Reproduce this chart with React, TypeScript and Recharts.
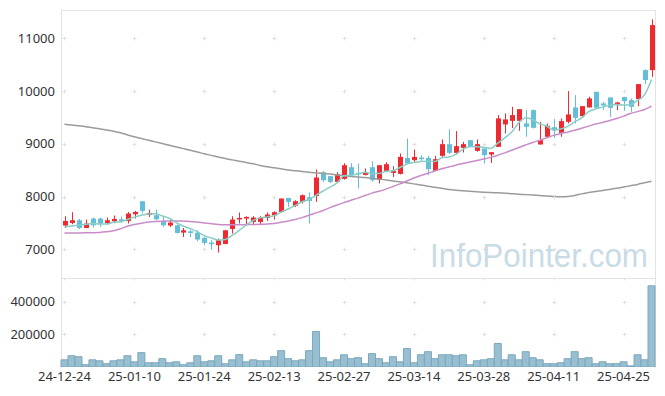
import React from 'react';
import { ComposedChart, Bar, Line, XAxis, YAxis, ReferenceDot } from 'recharts';

const dates = [
  '24-12-24', '24-12-26', '24-12-27', '24-12-30', '25-01-02', '25-01-03', '25-01-06', '25-01-07', '25-01-08', '25-01-09',
  '25-01-10', '25-01-13', '25-01-14', '25-01-15', '25-01-16', '25-01-17', '25-01-20', '25-01-21', '25-01-22', '25-01-23',
  '25-01-24', '25-01-31', '25-02-03', '25-02-04', '25-02-05', '25-02-06', '25-02-07', '25-02-10', '25-02-11', '25-02-12',
  '25-02-13', '25-02-14', '25-02-17', '25-02-18', '25-02-19', '25-02-20', '25-02-21', '25-02-24', '25-02-25', '25-02-26',
  '25-02-27', '25-02-28', '25-03-04', '25-03-05', '25-03-06', '25-03-07', '25-03-10', '25-03-11', '25-03-12', '25-03-13',
  '25-03-14', '25-03-17', '25-03-18', '25-03-19', '25-03-20', '25-03-21', '25-03-24', '25-03-25', '25-03-26', '25-03-27',
  '25-03-28', '25-03-31', '25-04-01', '25-04-02', '25-04-03', '25-04-04', '25-04-07', '25-04-08', '25-04-09', '25-04-10',
  '25-04-11', '25-04-14', '25-04-15', '25-04-16', '25-04-17', '25-04-18', '25-04-21', '25-04-22', '25-04-23', '25-04-24',
  '25-04-25', '25-04-28', '25-04-29', '25-04-30', '25-05-02',
];

const opens = [
  7450, 7499, 7550, 7404, 7582, 7582, 7499, 7531, 7569, 7537,
  7664, 7911, 7652, 7645, 7531, 7450, 7455, 7316, 7341, 7316,
  7215, 7127, 7076, 7101, 7385, 7564, 7582, 7518, 7518, 7594,
  7645, 7708, 7974, 7822, 7898, 7987, 8012, 8456, 8386, 8278,
  8335, 8556, 8448, 8410, 8556, 8316, 8486, 8448, 8429, 8733,
  8689, 8740, 8733, 8486, 8771, 8993, 8828, 8923, 9069, 8866,
  8911, 8797, 8942, 9367, 9435, 9435, 9386, 9638, 8987, 9132,
  9315, 9208, 9416, 9689, 9524, 9689, 9986, 9765, 9879, 9733,
  9885, 9828, 9847, 10397, 10397,
];

const highs = [
  7626, 7702, 7575, 7563, 7601, 7601, 7601, 7640, 7620, 7708,
  7727, 7911, 7753, 7753, 7613, 7569, 7474, 7404, 7360, 7360,
  7233, 7171, 7203, 7360, 7626, 7697, 7626, 7626, 7626, 7697,
  7721, 7962, 7974, 7930, 8038, 8076, 8513, 8486, 8386, 8462,
  8632, 8632, 8626, 8532, 8670, 8594, 8651, 8575, 8816, 9101,
  8892, 8784, 8771, 8771, 9082, 9272, 9240, 9037, 9069, 9082,
  8911, 8841, 9544, 9576, 9701, 9657, 9638, 9650, 9416, 9386,
  9468, 9481, 9999, 9923, 9714, 9891, 9986, 9796, 9879, 9796,
  9891, 9860, 10132, 10411, 11359,
];

const lows = [
  7404, 7474, 7385, 7398, 7412, 7423, 7474, 7493, 7500, 7488,
  7582, 7677, 7613, 7550, 7423, 7423, 7298, 7233, 7233, 7152,
  7076, 6994, 6937, 7095, 7298, 7488, 7442, 7455, 7455, 7537,
  7564, 7697, 7803, 7803, 7867, 7488, 7898, 8278, 8253, 8272,
  8320, 8390, 8152, 8400, 8278, 8247, 8470, 8372, 8420, 8626,
  8657, 8657, 8405, 8486, 8752, 8803, 8803, 8835, 8942, 8850,
  8626, 8638, 8942, 9196, 9297, 9246, 9132, 9290, 8987, 9132,
  9113, 9132, 9386, 9386, 9511, 9689, 9670, 9638, 9511, 9638,
  9625, 9606, 9714, 10132, 10270,
];

const closes = [
  7537, 7550, 7404, 7488, 7455, 7488, 7550, 7575, 7537, 7677,
  7708, 7727, 7689, 7569, 7455, 7506, 7309, 7360, 7309, 7184,
  7120, 7095, 7171, 7360, 7564, 7594, 7613, 7601, 7601, 7659,
  7702, 7962, 7898, 7911, 8025, 7917, 8361, 8310, 8278, 8424,
  8594, 8405, 8424, 8448, 8310, 8594, 8613, 8486, 8752, 8626,
  8752, 8708, 8518, 8708, 8993, 8828, 8955, 8993, 8955, 8993,
  8784, 8841, 9481, 9462, 9544, 9657, 9322, 9303, 9069, 9341,
  9259, 9430, 9557, 9492, 9714, 9860, 9682, 9727, 9682, 9784,
  9809, 9701, 10132, 10208, 11251,
];

const volumes = [
  44000, 69000, 63000, 14000, 44000, 38000, 20000, 38000, 44000, 69000,
  32000, 88000, 26000, 26000, 51000, 26000, 32000, 14000, 26000, 69000,
  32000, 38000, 69000, 20000, 44000, 76000, 32000, 44000, 38000, 38000,
  63000, 100000, 51000, 38000, 44000, 100000, 218000, 57000, 32000, 44000,
  75000, 51000, 57000, 20000, 82000, 51000, 26000, 63000, 32000, 113000,
  26000, 75000, 94000, 51000, 75000, 75000, 69000, 75000, 14000, 38000,
  44000, 51000, 144000, 44000, 75000, 44000, 94000, 57000, 44000, 20000,
  20000, 26000, 51000, 94000, 51000, 57000, 20000, 32000, 20000, 20000,
  32000, 7000, 75000, 44000, 498000,
];

const ma5 = [
  7423, 7440, 7455, 7470, 7487, 7477, 7477, 7511, 7521, 7565,
  7609, 7645, 7668, 7674, 7630, 7589, 7506, 7440, 7388, 7334,
  7256, 7214, 7176, 7186, 7262, 7357, 7460, 7546, 7595, 7614,
  7635, 7705, 7764, 7826, 7900, 7943, 8022, 8105, 8178, 8258,
  8393, 8402, 8425, 8459, 8436, 8436, 8478, 8490, 8551, 8614,
  8646, 8665, 8671, 8662, 8736, 8751, 8800, 8895, 8945, 8945,
  8936, 8913, 9011, 9112, 9222, 9397, 9493, 9458, 9379, 9338,
  9259, 9280, 9331, 9416, 9490, 9611, 9661, 9695, 9733, 9747,
  9737, 9741, 9822, 9927, 10220,
];

const ma20 = [
  7309, 7309, 7310, 7312, 7314, 7318, 7330, 7350, 7390, 7435,
  7470, 7495, 7515, 7528, 7533, 7537, 7537, 7535, 7528, 7515,
  7500, 7485, 7470, 7465, 7465, 7465, 7468, 7470, 7472, 7478,
  7490, 7510, 7535, 7565, 7600, 7645, 7690, 7735, 7790, 7840,
  7885, 7930, 7970, 8020, 8065, 8100, 8140, 8190, 8240, 8295,
  8350, 8400, 8440, 8485, 8525, 8560, 8595, 8625, 8655, 8685,
  8712, 8742, 8782, 8828, 8878, 8930, 8978, 9025, 9068, 9112,
  9160, 9195, 9220, 9255, 9295, 9335, 9375, 9405, 9440, 9480,
  9525, 9575, 9610, 9650, 9714,
];

const ma120 = [
  9373, 9355, 9340, 9325, 9305, 9285, 9262, 9238, 9210, 9170,
  9132, 9100, 9068, 9036, 9004, 8972, 8940, 8908, 8876, 8845,
  8810, 8780, 8750, 8720, 8695, 8670, 8645, 8620, 8590, 8565,
  8545, 8525, 8505, 8490, 8475, 8460, 8450, 8440, 8425, 8410,
  8395, 8380, 8370, 8360, 8345, 8330, 8315, 8295, 8278, 8260,
  8240, 8220, 8195, 8175, 8155, 8135, 8120, 8108, 8098, 8090,
  8082, 8076, 8070, 8062, 8054, 8045, 8036, 8027, 8018, 8008,
  8000, 7995, 8000, 8020, 8050, 8075, 8095, 8115, 8135, 8155,
  8180, 8205, 8230, 8260, 8290,
];

const priceTicks = [7000, 8000, 9000, 10000, 11000];
const volumeTicks = [200000, 400000];
const dateTicks = ['24-12-24', '25-01-10', '25-01-24', '25-02-13', '25-02-27', '25-03-14', '25-03-28', '25-04-11', '25-04-25'];
const priceDomain = [6455, 11537];
const volumeDomain = [0, 546000];

const data = dates.map((d, i) => ({
  date: d,
  open: opens[i],
  high: highs[i],
  low: lows[i],
  close: closes[i],
  range: [lows[i], highs[i]],
  volume: volumes[i],
  ma5: ma5[i],
  ma20: ma20[i],
  ma120: ma120[i],
}));

const UP = '#ee2a30';
const DOWN = '#63bfd7';
const FONT = '"Noto Sans", sans-serif';
const tickStyle = { fontSize: 13, fill: '#333', fontFamily: FONT };

function Candle(props: any) {
  let { x, y, width, height, payload } = props;
  if (height < 0) {
    y = y + height;
    height = -height;
  }
  const { open, close, high, low } = payload;
  const ratio = high === low ? 0 : height / (high - low);
  const yO = y + (high - open) * ratio;
  const yC = y + (high - close) * ratio;
  const up = close >= open;
  const color = up ? UP : DOWN;
  const cx = Math.round(x + width / 2);
  const top = Math.min(yO, yC);
  const h = Math.max(Math.abs(yO - yC), 1.5);
  return (
    <g>
      <line x1={cx + 0.5} x2={cx + 0.5} y1={y} y2={y + height} stroke={color} strokeWidth={1} />
      <rect x={cx - 2} y={top} width={5} height={h} fill={color} />
    </g>
  );
}

function Plus(props: any) {
  const { cx, cy } = props;
  const x = Math.round(cx) + 0.5;
  const y = Math.round(cy) + 0.5;
  return <path d={`M${x - 2},${y}h4M${x},${y - 2}v4`} stroke="#e0e0e0" strokeWidth={1} fill="none" />;
}

export default function App() {
  const W = 665;
  const margin = { top: 10, right: 10, left: 0, bottom: 0 };
  return (
    <div style={{ position: 'absolute', left: 0, top: 0, width: 665, height: 396, background: '#fff', overflow: 'hidden' }}>
      <div style={{ position: 'absolute', left: 61, top: 10, width: 595, height: 269, border: '1px solid #e3e3e3', boxSizing: 'border-box' }} />
      <div style={{ position: 'absolute', left: 61, top: 278, width: 595, height: 90, borderLeft: '1px solid #e3e3e3', borderRight: '1px solid #e3e3e3', boxSizing: 'border-box' }} />
      <svg style={{ position: 'absolute', left: 0, top: 0 }} width={665} height={396}>
        <text x={430} y={267} fontFamily='"Liberation Sans", Arial, sans-serif' fontSize={33} fill="#c9dbe5" textLength={218} lengthAdjust="spacingAndGlyphs">
          InfoPointer.com
        </text>
      </svg>
      <div style={{ position: 'absolute', left: 0, top: 0 }}>
        <ComposedChart width={W} height={278} data={data} margin={margin}>
          <XAxis dataKey="date" hide />
          <YAxis
            type="number"
            domain={priceDomain}
            ticks={priceTicks}
            width={61}
            axisLine={false}
            tickLine={false}
            tickSize={0}
            tickMargin={6}
            tick={tickStyle}
            allowDataOverflow
          />
          {dateTicks.map((d) =>
            priceTicks.map((p) => (
              <ReferenceDot key={d + p} x={d} y={p} r={2} shape={Plus} ifOverflow="visible" />
            ))
          )}
          <Line dataKey="ma120" type="monotone" stroke="#9b9b9b" strokeWidth={1.5} dot={false} isAnimationActive={false} />
          <Line dataKey="ma20" type="monotone" stroke="#c98cc8" strokeWidth={1.5} dot={false} isAnimationActive={false} />
          <Line dataKey="ma5" type="monotone" stroke="#88cec6" strokeWidth={1.5} dot={false} isAnimationActive={false} />
          <Bar dataKey="range" shape={Candle} isAnimationActive={false} />
        </ComposedChart>
      </div>
      <div style={{ position: 'absolute', left: 0, top: 278 }}>
        <ComposedChart width={W} height={118} data={data} margin={{ top: 0, right: 10, left: 0, bottom: 0 }} barCategoryGap={0}>
          <XAxis
            dataKey="date"
            ticks={dateTicks}
            interval={0}
            height={29}
            axisLine={false}
            tickLine={false}
            tickSize={0}
            tickMargin={5}
            tick={tickStyle}
          />
          <YAxis
            type="number"
            domain={volumeDomain}
            ticks={volumeTicks}
            width={61}
            axisLine={false}
            tickLine={false}
            tickSize={0}
            tickMargin={6}
            tick={tickStyle}
            allowDataOverflow
          />
          {dateTicks.map((d) =>
            [...volumeTicks, volumeDomain[1]].map((v) => (
              <ReferenceDot key={d + v} x={d} y={v} r={2} shape={Plus} ifOverflow="visible" />
            ))
          )}
          <Bar dataKey="volume" fill="#98bfd1" stroke="#7ba7bc" strokeWidth={1} isAnimationActive={false} />
        </ComposedChart>
      </div>
    </div>
  );
}
